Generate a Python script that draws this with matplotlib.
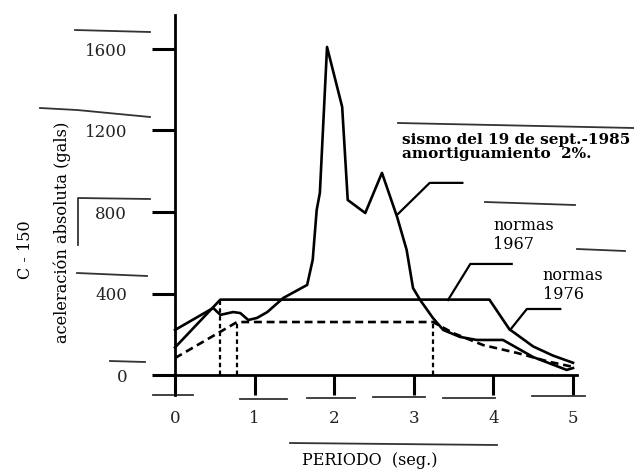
import matplotlib
matplotlib.use("Agg")
import matplotlib.pyplot as plt

# periodo (seg.) / aceleracion absoluta (gals)
sismo_T = [0.0, 0.48, 0.57, 0.73, 0.82, 0.92, 1.03, 1.16, 1.36, 1.66, 1.73,
           1.78, 1.82, 1.91, 2.10, 2.17, 2.39, 2.60, 2.79, 2.91, 2.99, 3.08,
           3.24, 3.37, 3.58, 3.79, 4.12, 4.50, 4.92, 5.0]
sismo_a = [221, 329, 295, 309, 304, 270, 280, 309, 378, 442, 565,
           810, 894, 1610, 1316, 859, 795, 992, 776, 614, 427, 368,
           280, 221, 187, 172, 172, 88, 25, 34]

norma_sol_T = [0.0, 0.57, 3.95, 4.2, 4.5, 4.75, 5.0]
norma_sol_a = [135, 370, 370, 225, 140, 95, 60]

norma_dash_T = [0.0, 0.78, 3.24, 3.5, 3.87, 4.3, 4.7, 5.0]
norma_dash_a = [83, 260, 260, 205, 147, 108, 65, 40]

y_ticks = [0, 400, 800, 1200, 1600]
x_ticks = [0, 1, 2, 3, 4, 5]

W, H = 634, 473
PX_X = 79.6        # pixeles por segundo
PX_Y = 81.5 / 400  # pixeles por gal
X0, Y0 = 175, 375

fig = plt.figure(figsize=(W / 100, H / 100), dpi=100)
ax = fig.add_axes([0, 0, 1, 1])
ax.set_xlim(-X0 / PX_X, (W - X0) / PX_X)
ax.set_ylim(-(H - Y0) / PX_Y, Y0 / PX_Y)

serif = "DejaVu Serif"
lw = 1.9

ax.plot(sismo_T, sismo_a, color="black", lw=lw, solid_joinstyle="round")
ax.plot(norma_sol_T, norma_sol_a, color="black", lw=lw)
ax.plot(norma_dash_T, norma_dash_a, color="black", lw=lw,
        linestyle=(0, (3, 1.8)))

# verticales punteadas en las esquinas
for t, a in [(norma_sol_T[1], norma_sol_a[1]),
             (norma_dash_T[1], norma_dash_a[1]),
             (norma_dash_T[2], norma_dash_a[2])]:
    ax.plot([t, t], [0, a], color="black", lw=1.6, linestyle=(0, (2, 1.5)))

# ejes
for side in ["top", "right"]:
    ax.spines[side].set_visible(False)
ax.spines["left"].set_position(("data", 0))
ax.spines["bottom"].set_position(("data", 0))
ax.spines["left"].set_bounds(-98, 1768)
ax.spines["bottom"].set_bounds(-0.25, 5.05)
ax.spines["left"].set_linewidth(2.0)
ax.spines["bottom"].set_linewidth(2.0)

ax.set_xticks(x_ticks)
ax.set_yticks(y_ticks)
ax.set_xticklabels([str(v) for v in x_ticks], fontfamily=serif, fontsize=12,
                   color="#222222")
ax.set_yticklabels([str(v) for v in y_ticks], fontfamily=serif, fontsize=12,
                   color="#222222")
ax.tick_params(axis="y", direction="out", length=16.5, width=2.2, pad=18)
ax.tick_params(axis="x", direction="out", length=14.5, width=2.2, pad=11)

ax.set_xlabel("PERIODO  (seg.)", fontfamily=serif, fontsize=11.5)
ax.xaxis.set_label_coords(370 / W, 1 - 460 / H)
ax.xaxis.label.set_verticalalignment("center")

ax.set_ylabel("aceleración absoluta (gals)", fontfamily=serif, fontsize=11.7)
ax.yaxis.set_label_coords(62 / W, 1 - 232 / H)
ax.yaxis.label.set_verticalalignment("center")
ax.text(25 / W, 1 - 250 / H, "C - 150", transform=ax.transAxes,
        rotation=90, ha="center", va="center", fontfamily=serif, fontsize=11.5)

# textos y lineas de referencia
ax.text(2.85, 1188, "sismo del 19 de sept.-1985\namortiguamiento  2%.",
        ha="left", va="top", fontfamily=serif, fontsize=11, fontweight="bold",
        linespacing=1.0)
ax.text(4.0, 775, "normas\n1967", ha="left", va="top", fontfamily=serif,
        fontsize=11.5, linespacing=1.15)
ax.text(4.62, 530, "normas\n1976", ha="left", va="top", fontfamily=serif,
        fontsize=11.5, linespacing=1.15)

ax.plot([3.61, 3.20, 2.79], [943, 943, 786], color="black", lw=1.6)
ax.plot([4.23, 3.71, 3.43], [545, 545, 368], color="black", lw=1.6)
ax.plot([4.84, 4.42, 4.21], [324, 324, 221], color="black", lw=1.6)

# rayas del escaneo original
rayas = [
    [(75, 30), (150, 32)],
    [(40, 108), (77, 110), (150, 117)],
    [(78, 245), (78, 198), (150, 199)],
    [(77, 273), (147, 276)],
    [(110, 361), (145, 362)],
    [(153, 395), (193, 395)],
    [(240, 399), (287, 399)],
    [(307, 398), (355, 398)],
    [(373, 397), (425, 397)],
    [(443, 398), (495, 398)],
    [(532, 396), (585, 396)],
    [(290, 443), (497, 445)],
    [(398, 123), (634, 128)],
    [(485, 202), (575, 205)],
    [(577, 249), (625, 251)],
]
for seg in rayas:
    xs = [p[0] / W for p in seg]
    ys = [1 - p[1] / H for p in seg]
    ax.plot(xs, ys, transform=fig.transFigure, color="#333333", lw=1.3,
            clip_on=False)

fig.savefig("out.png", dpi=100)
